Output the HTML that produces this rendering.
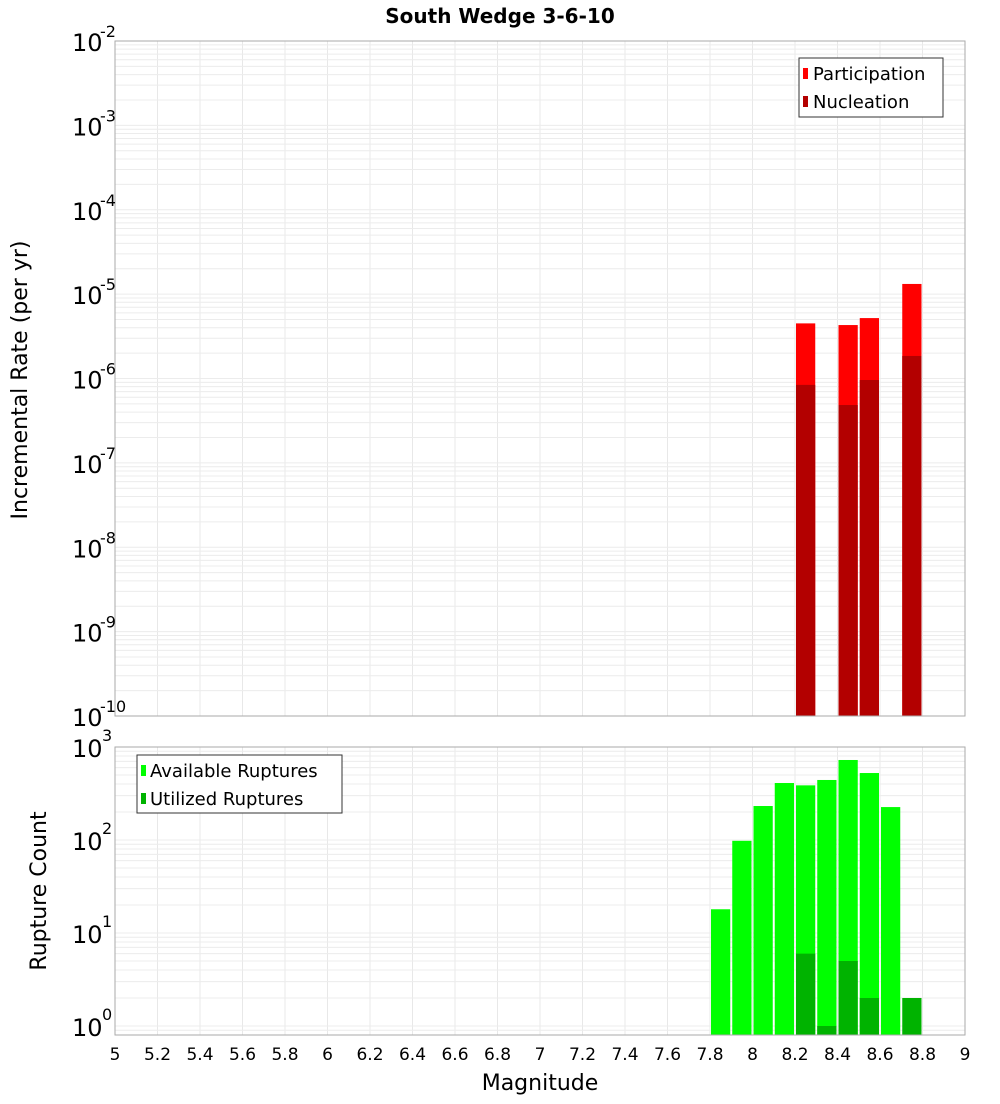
<!DOCTYPE html>
<html><head><meta charset="utf-8"><style>
body{margin:0;background:#fff;font-family:"DejaVu Sans","Liberation Sans",sans-serif}
</style></head><body>
<svg id="c" width="1000" height="1100" xmlns="http://www.w3.org/2000/svg" font-family="DejaVu Sans, Liberation Sans, sans-serif"></svg>
<script>
const mags=[7.85,7.95,8.05,8.15,8.25,8.35,8.45,8.55,8.65,8.75];
const partMags=[8.25,8.45,8.55,8.75];
const participation=[4.5e-6,4.3e-6,5.2e-6,1.32e-5];
const nucleation=[8.4e-7,4.85e-7,9.6e-7,1.85e-6];
const available=[18,98,232,410,387,442,725,525,226,0];
const utilized=[0,0,0,0,6,1,5,2,0,2];
const xTicks=["5","5.2","5.4","5.6","5.8","6","6.2","6.4","6.6","6.8","7","7.2","7.4","7.6","7.8","8","8.2","8.4","8.6","8.8","9"];
const topExp=[-2,-3,-4,-5,-6,-7,-8,-9,-10];
const botExp=[3,2,1,0];

const svg=document.getElementById('c');const NS='http://www.w3.org/2000/svg';
function el(t,a,p){const e=document.createElementNS(NS,t);for(const k in a)e.setAttribute(k,a[k]);(p||svg).appendChild(e);return e;}
const X0=115,X1=965;
const x=m=>X0+(m-5)/4*(X1-X0);
const T0=41,T1=716;
const yTop=v=>T0+(-2-Math.log10(v))*(T1-T0)/8;
const B0=747,B1=1035,BD=93;
const yBot=v=>B0+(3-Math.log10(v))*BD;

function grid(top,bot,yf,decs){
  const g=el('g',{});
  
  for(let i=0;i<=20;i++){const xx=x(5+i*0.2);el('line',{x1:xx,x2:xx,y1:top,y2:bot,stroke:'#e8e8e8'},g);}
  decs.forEach(d=>{for(let k=1;k<10;k++){const yy=yf(k*Math.pow(10,d));if(yy>=top-0.5&&yy<=bot)el('line',{x1:X0,x2:X1,y1:yy,y2:yy,stroke:'#ececec'},g);}});
}
// top panel
grid(T0,T1,yTop,[-10,-9,-8,-7,-6,-5,-4,-3,-2]);
partMags.forEach((m,i)=>{
  const r=el('rect',{x:x(m-0.05)+1,y:yTop(participation[i]),width:x(0.1+5)-X0-2,height:T1-yTop(participation[i]),fill:'#ff0000'});
  
  const n=el('rect',{x:x(m-0.05)+1,y:yTop(nucleation[i]),width:x(0.1+5)-X0-2,height:T1-yTop(nucleation[i]),fill:'#b30000'});
  
});
el('rect',{x:X0,y:T0,width:X1-X0,height:T1-T0,fill:'none',stroke:'#aaa'});
topExp.forEach(e=>{const yy=yTop(Math.pow(10,e));
  const t=el('text',{x:72,y:yy+10,'font-size':24,fill:'#000'});t.textContent='10';
  
  const s=el('text',{x:100,y:yy-4,'font-size':16,fill:'#000'});s.textContent=String(e);});
// bottom panel
grid(B0,B1,yBot,[-1,0,1,2]);
mags.forEach((m,i)=>{
  if(available[i]>0){const r=el('rect',{x:x(m-0.05)+1,y:yBot(available[i]),width:x(5.1)-X0-2,height:B1-yBot(available[i]),fill:'#00ff00'});
  }
  if(utilized[i]>0){const r=el('rect',{x:x(m-0.05)+1,y:yBot(utilized[i]),width:x(5.1)-X0-2,height:B1-yBot(utilized[i]),fill:'#00b300'});
  }
});
el('rect',{x:X0,y:B0,width:X1-X0,height:B1-B0,fill:'none',stroke:'#aaa'});
botExp.forEach(e=>{const yy=yBot(Math.pow(10,e));
  const t=el('text',{x:72,y:yy+10,'font-size':24,fill:'#000'});t.textContent='10';
  
  const s=el('text',{x:102,y:yy-6,'font-size':16,fill:'#000'});s.textContent=String(e);});
xTicks.forEach(l=>{const t=el('text',{x:x(parseFloat(l)),y:1060,'font-size':17,'text-anchor':'middle',fill:'#000'});t.textContent=l;
  });
</script>
<svg style="position:absolute;left:0;top:0" width="1000" height="1100" font-family="DejaVu Sans, Liberation Sans, sans-serif">
<text x="500" y="23" font-size="20" font-weight="bold" text-anchor="middle">South Wedge 3-6-10</text>
<text transform="translate(27,380) rotate(-90)" font-size="22" text-anchor="middle">Incremental Rate (per yr)</text>
<text transform="translate(46,891) rotate(-90)" font-size="22" text-anchor="middle">Rupture Count</text>
<text x="540" y="1090" font-size="22" text-anchor="middle">Magnitude</text>
<g>
<rect x="799" y="58" width="144" height="59" fill="#fff" stroke="#333"/>
<rect x="803" y="68" width="5" height="11" fill="#ff0000"/>
<text x="813" y="80" font-size="18">Participation</text>
<rect x="803" y="96" width="5" height="11" fill="#b30000"/>
<text x="813" y="108" font-size="18">Nucleation</text>
</g>
<g>
<rect x="137" y="755" width="205" height="58" fill="#fff" stroke="#333"/>
<rect x="141" y="765" width="5" height="11" fill="#00ff00"/>
<text x="150" y="777" font-size="18">Available Ruptures</text>
<rect x="141" y="793" width="5" height="11" fill="#00b300"/>
<text x="150" y="805" font-size="18">Utilized Ruptures</text>
</g>
</svg>
</body></html>
